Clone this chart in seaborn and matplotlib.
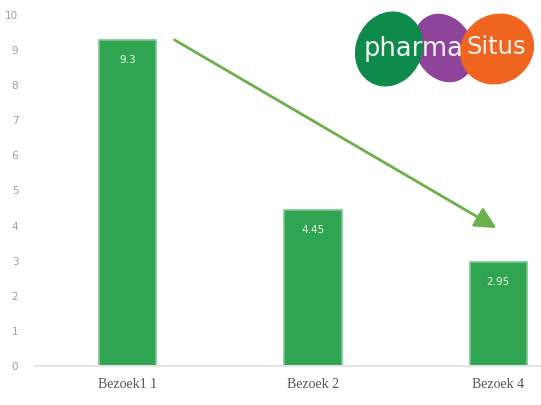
import numpy as np
import pandas as pd
import matplotlib.pyplot as plt
import seaborn as sns
from matplotlib.patches import Ellipse

# data
bezoeken = ["Bezoek1 1", "Bezoek 2", "Bezoek 4"]
waarden = [9.3, 4.45, 2.95]
labels = ["9.3", "4.45", "2.95"]
yticks = list(range(0, 11))

df = pd.DataFrame({"bezoek": bezoeken, "waarde": waarden})

sns.set_style("white")
fig = plt.figure(figsize=(5.41, 4.05), dpi=100)
ax = fig.add_axes([35 / 541, 39 / 405, 1 - 35 / 541, 351 / 405])

sns.barplot(data=df, x="bezoek", y="waarde", ax=ax, color="#2fa552",
            width=0.31, edgecolor="#7cc793", linewidth=1.2, saturation=1)

for i, (v, t) in enumerate(zip(waarden, labels)):
    ax.text(i, v - 0.57, t, ha="center", va="center", color="#eef7ee",
            fontsize=7.5, family="DejaVu Sans")

# pijl
ax.annotate("", xy=(1.99, 3.93), xytext=(0.253, 9.29),
            arrowprops=dict(arrowstyle="-|>,head_length=1.3,head_width=0.65",
                            color="#6ab04c", lw=2, shrinkA=0, shrinkB=0))

ax.set_xlim(-0.5, 2.23)
ax.set_ylim(0, 10)
ax.set_yticks(yticks)
ax.set_yticklabels([str(t) for t in yticks], color="#a0a0a0", fontsize=7.5,
                   family="DejaVu Sans")
ax.set_xlabel("")
ax.set_ylabel("")
ax.tick_params(axis="x", length=0, pad=9, labelsize=10, labelcolor="#555555")
ax.tick_params(axis="y", length=0, pad=12)
for lab in ax.get_xticklabels():
    lab.set_family("Liberation Serif")
for s in ["top", "right", "left"]:
    ax.spines[s].set_visible(False)
ax.spines["bottom"].set_color("#e4e4e4")
ax.spines["bottom"].set_linewidth(1.5)

# logo pharmaSitus
W, H = 541, 405
def ell(cx, cy, w, h, hoek, c):
    fig.patches.append(Ellipse((cx / W, 1 - cy / H), w / W, h / H, angle=hoek,
                               transform=fig.transFigure, color=c, zorder=5))
ell(444, 48, 58, 68, 12, "#8f449c")
ell(497, 49, 72, 70, -10, "#ef651f")
ell(389, 49, 66, 74, -8, "#0e8a4a")
fig.text(364 / W, 1 - 49 / H, "pharma", color="#f2f2f2", fontsize=18.5,
         family="DejaVu Sans", va="center", ha="left", zorder=6)
fig.text(466 / W, 1 - 47 / H, "Situs", color="#f2f2f2", fontsize=17.5,
         family="DejaVu Sans", va="center", ha="left", zorder=6)

fig.savefig("out.png", dpi=100)
